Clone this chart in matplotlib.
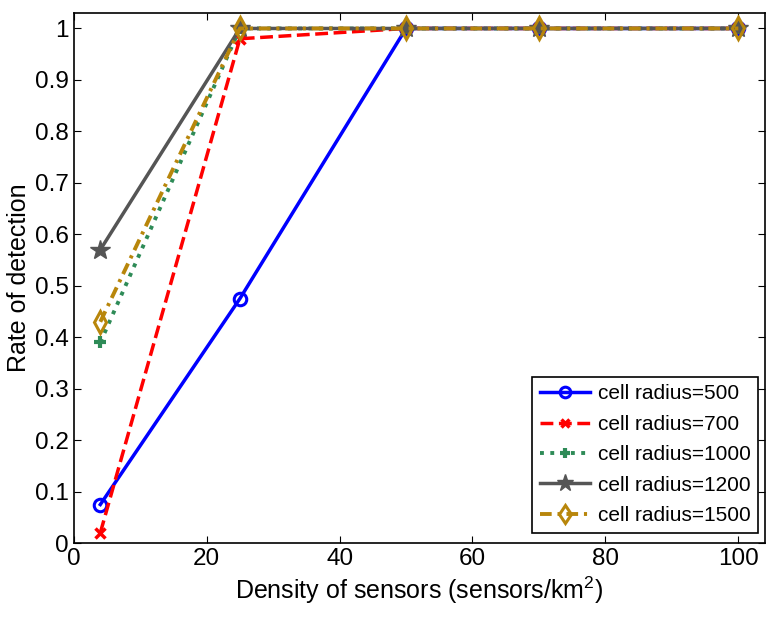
import matplotlib
matplotlib.use("Agg")
import matplotlib.pyplot as plt
from matplotlib.ticker import FuncFormatter

plt.rcParams["font.family"] = ["Liberation Sans", "DejaVu Sans"]
plt.rcParams["mathtext.fontset"] = "custom"
plt.rcParams["mathtext.rm"] = "Liberation Sans"

density = [4, 25, 50, 70, 100]
r500 = [0.075, 0.475, 1.0, 1.0, 1.0]
r700 = [0.02, 0.98, 1.0, 1.0, 1.0]
r1000 = [0.39, 1.0, 1.0, 1.0, 1.0]
r1200 = [0.57, 1.0, 1.0, 1.0, 1.0]
r1500 = [0.43, 1.0, 1.0, 1.0, 1.0]
labels = ["cell radius=500", "cell radius=700", "cell radius=1000",
          "cell radius=1200", "cell radius=1500"]

fig = plt.figure(figsize=(7.68, 6.2), dpi=100)
ax = fig.add_axes([0.096, 0.124, 0.9, 0.855])

ax.plot(density, r500, "-", color="#0000ff", lw=2.5, marker="o", ms=9,
        mfc="none", mew=2.2, label=labels[0])
ax.plot(density, r700, "--", color="#ff0000", lw=2.5, marker="x", ms=7,
        mew=2.5, label=labels[1])
ax.plot(density, r1000, ":", color="#2e8b57", lw=2.8, marker="+", ms=9,
        mew=3, label=labels[2])
ax.plot(density, r1200, "-", color="#555555", lw=2.5, marker="*", ms=15,
        label=labels[3])
ax.plot(density, r1500, color="#b8860b", lw=2.8, dashes=(3, 1.5, 0.8, 1.5),
        marker="d", ms=11, mfc="none", mew=2.2, label=labels[4])

ax.set_xlim(0, 104)
ax.set_ylim(0, 1.03)
ax.set_xticks(range(0, 101, 20))
ax.set_yticks([i / 10 for i in range(11)])
ax.yaxis.set_major_formatter(FuncFormatter(lambda v, p: f"{v:g}"))
ax.tick_params(direction="in", top=True, right=True, labelsize=17.5, length=5)
for s in ax.spines.values():
    s.set_linewidth(1.2)

ax.set_xlabel("Density of sensors (sensors/km$^2$)", fontsize=18, labelpad=3)
ax.set_ylabel("Rate of detection", fontsize=18, labelpad=3)

leg = ax.legend(loc="lower right", bbox_to_anchor=(0.99, 0.02), borderaxespad=0,
                fontsize=15, fancybox=False, edgecolor="black",
                framealpha=1, handlelength=2.4, labelspacing=0.55,
                handletextpad=0.4, borderpad=0.35, markerscale=0.85)
leg.get_frame().set_linewidth(1.2)

fig.savefig("out.png", dpi=100)
